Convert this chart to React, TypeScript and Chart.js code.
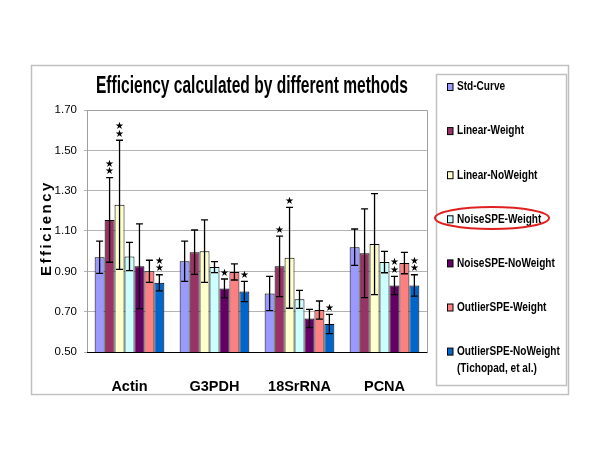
import { useEffect, useRef } from 'react';
import Chart from 'chart.js/auto';

const categories = ['Actin', 'G3PDH', '18SrRNA', 'PCNA'];
const methods = [
  'Std-Curve',
  'Linear-Weight',
  'Linear-NoWeight',
  'NoiseSPE-Weight',
  'NoiseSPE-NoWeight',
  'OutlierSPE-Weight',
  'OutlierSPE-NoWeight',
];
const colors = ['#9999FF', '#993366', '#FFFFCC', '#CCFFFF', '#660066', '#FF8080', '#0066CC'];

// mean efficiency per method, one value per category
const stdCurve = [0.97, 0.95, 0.79, 1.02];
const linearWeight = [1.155, 0.995, 0.925, 0.99];
const linearNoWeight = [1.23, 1.0, 0.967, 1.035];
const noiseWeight = [0.974, 0.921, 0.761, 0.946];
const noiseNoWeight = [0.925, 0.815, 0.666, 0.83];
const outlierWeight = [0.9, 0.897, 0.708, 0.941];
const outlierNoWeight = [0.843, 0.8, 0.639, 0.83];

// error bar half-lengths
const stdCurveErr = [0.08, 0.1, 0.085, 0.09];
const linearWeightErr = [0.21, 0.11, 0.15, 0.22];
const linearNoWeightErr = [0.32, 0.155, 0.25, 0.25];
const noiseWeightErr = [0.07, 0.027, 0.045, 0.053];
const noiseNoWeightErr = [0.21, 0.047, 0.045, 0.045];
const outlierWeightErr = [0.055, 0.04, 0.045, 0.053];
const outlierNoWeightErr = [0.04, 0.05, 0.048, 0.053];

// number of significance stars above each bar
const stdCurveStars = [0, 0, 0, 0];
const linearWeightStars = [2, 0, 1, 0];
const linearNoWeightStars = [2, 0, 1, 0];
const noiseWeightStars = [0, 0, 0, 0];
const noiseNoWeightStars = [0, 1, 0, 2];
const outlierWeightStars = [0, 0, 0, 0];
const outlierNoWeightStars = [2, 1, 1, 2];

const yTicks = [0.5, 0.7, 0.9, 1.1, 1.3, 1.5, 1.7];

const values = [stdCurve, linearWeight, linearNoWeight, noiseWeight, noiseNoWeight, outlierWeight, outlierNoWeight];
const errors = [stdCurveErr, linearWeightErr, linearNoWeightErr, noiseWeightErr, noiseNoWeightErr, outlierWeightErr, outlierNoWeightErr];
const stars = [stdCurveStars, linearWeightStars, linearNoWeightStars, noiseWeightStars, noiseNoWeightStars, outlierWeightStars, outlierNoWeightStars];

const FONT = '"Liberation Sans", Arial, sans-serif';
const TITLE = 'Efficiency calculated by different methods';

const extrasPlugin = {
  id: 'extras',
  beforeDraw(chart: Chart) {
    const ctx = chart.ctx;
    ctx.save();
    ctx.fillStyle = '#ffffff';
    ctx.fillRect(0, 0, chart.width, chart.height);
    ctx.strokeStyle = '#c0c0c0';
    ctx.lineWidth = 1.5;
    ctx.strokeRect(31.5, 65.5, 537, 329);
    ctx.restore();
  },
  afterDatasetsDraw(chart: Chart) {
    const ctx = chart.ctx;
    const y = chart.scales.y;
    const area = chart.chartArea;
    ctx.save();
    // plot frame
    ctx.strokeStyle = '#a0a0a0';
    ctx.lineWidth = 1;
    ctx.beginPath();
    ctx.moveTo(area.left, area.top + 0.5);
    ctx.lineTo(area.right + 0.5, area.top + 0.5);
    ctx.lineTo(area.right + 0.5, area.bottom);
    ctx.stroke();
    ctx.strokeStyle = '#000000';
    ctx.beginPath();
    ctx.moveTo(area.left, area.bottom + 0.5);
    ctx.lineTo(area.right + 0.5, area.bottom + 0.5);
    ctx.stroke();

    // error bars and stars
    chart.data.datasets.forEach((ds, di) => {
      const meta = chart.getDatasetMeta(di);
      meta.data.forEach((bar, i) => {
        const v = values[di][i];
        const e = errors[di][i];
        const x = bar.x;
        const top = y.getPixelForValue(v + e);
        const bot = y.getPixelForValue(v - e);
        ctx.strokeStyle = '#000000';
        ctx.lineWidth = 1.3;
        ctx.beginPath();
        ctx.moveTo(x, top);
        ctx.lineTo(x, bot);
        ctx.moveTo(x - 3.5, top);
        ctx.lineTo(x + 3.5, top);
        ctx.moveTo(x - 3.5, bot);
        ctx.lineTo(x + 3.5, bot);
        ctx.stroke();
        ctx.fillStyle = '#000000';
        ctx.font = '10px "DejaVu Sans", sans-serif';
        ctx.textAlign = 'center';
        ctx.textBaseline = 'middle';
        for (let k = 0; k < stars[di][i]; k++) {
          ctx.fillText('\u2605', x, top - 6 - k * 7.5);
        }
      });
    });
    ctx.restore();
  },
  afterDraw(chart: Chart) {
    const ctx = chart.ctx;
    // title, squeezed like the original slide
    ctx.save();
    ctx.fillStyle = '#000000';
    ctx.font = `bold 23px ${FONT}`;
    ctx.textAlign = 'center';
    ctx.textBaseline = 'alphabetic';
    ctx.fillText(TITLE, 252, 93, 312);
    ctx.restore();

    ctx.save();
    // y axis title, letter spaced
    ctx.translate(47, 228);
    ctx.rotate(-Math.PI / 2);
    ctx.fillStyle = '#000000';
    ctx.font = `bold 15px ${FONT}`;
    (ctx as any).letterSpacing = '2.5px';
    ctx.textAlign = 'center';
    ctx.textBaseline = 'middle';
    ctx.fillText('Efficiency', 0, 0);
    ctx.restore();

    // legend
    ctx.save();
    ctx.strokeStyle = '#c0c0c0';
    ctx.lineWidth = 1.5;
    ctx.strokeRect(436.5, 74.5, 130, 311);
    ctx.textBaseline = 'middle';
    ctx.textAlign = 'left';
    methods.forEach((m, i) => {
      const ly = 87 + i * 44.1;
      ctx.fillStyle = colors[i];
      ctx.fillRect(448, ly - 3.5, 5, 7);
      ctx.strokeStyle = '#000000';
      ctx.lineWidth = 1;
      ctx.strokeRect(447.5, ly - 3.5, 5.5, 7);
      ctx.fillStyle = '#000000';
      ctx.save();
      ctx.translate(457, ly);
      ctx.scale(0.84, 1);
      ctx.font = `bold 12px ${FONT}`;
      ctx.fillText(m, 0, 0);
      if (i === methods.length - 1) ctx.fillText('(Tichopad, et al.)', 0, 17);
      ctx.restore();
    });
    // highlight ellipse
    ctx.strokeStyle = '#E02020';
    ctx.lineWidth = 2;
    ctx.beginPath();
    ctx.ellipse(492, 218, 57, 11, 0, 0, Math.PI * 2);
    ctx.stroke();
    ctx.restore();
  },
};

export default function App() {
  const canvasRef = useRef<HTMLCanvasElement>(null);
  const chartRef = useRef<Chart | null>(null);

  useEffect(() => {
    if (!canvasRef.current) return;
    if (chartRef.current) chartRef.current.destroy();

    chartRef.current = new Chart(canvasRef.current, {
      type: 'bar',
      data: {
        labels: categories,
        datasets: methods.map((m, i) => ({
          label: m,
          data: values[i],
          backgroundColor: colors[i],
          borderColor: '#000000',
          borderWidth: 1,
          categoryPercentage: 0.82,
          barPercentage: 1,
        })),
      },
      options: {
        animation: false,
        responsive: true,
        maintainAspectRatio: false,
        layout: { padding: { left: 30, right: 173, top: 110, bottom: 52 } },
        plugins: {
          legend: { display: false },
          tooltip: { enabled: false },
          title: { display: false },
        },
        scales: {
          x: {
            grid: { display: false },
            border: { display: false },
            ticks: {
              color: '#000000',
              padding: 18,
              font: { family: FONT, size: 14.5, weight: 'bold' },
            },
            afterFit(scale) {
              scale.height = 60;
            },
          },
          y: {
            min: 0.5,
            max: 1.7,
            afterBuildTicks(scale) {
              scale.ticks = yTicks.map((v) => ({ value: v }));
            },
            grid: { color: '#b4b4b4', tickLength: 3 },
            border: { color: '#a0a0a0' },
            ticks: {
              color: '#000000',
              padding: 7,
              font: { family: FONT, size: 11.5 },
              callback: (v) => Number(v).toFixed(2),
            },
            afterFit(scale) {
              scale.width = 57;
            },
          },
        },
      },
      plugins: [extrasPlugin],
    });

    return () => {
      if (chartRef.current) {
        chartRef.current.destroy();
        chartRef.current = null;
      }
    };
  }, []);

  return (
    <div style={{ position: 'fixed', left: 0, top: 0, width: 600, height: 464, background: '#ffffff' }}>
      <canvas ref={canvasRef}></canvas>
    </div>
  );
}
